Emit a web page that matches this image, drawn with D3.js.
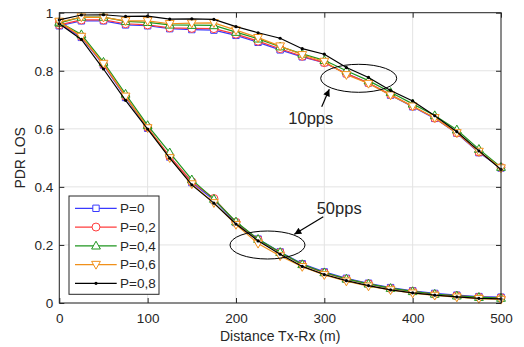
<!DOCTYPE html>
<html><head><meta charset="utf-8">
<script src="https://cdn.jsdelivr.net/npm/d3@7/dist/d3.min.js"></script>
<style>body{margin:0;background:#fff}svg{display:block}text{font-family:"Liberation Sans",Arial,sans-serif;fill:#262626}</style>
</head><body><svg id="c" width="524" height="347"></svg>
<script>
const distances = [0,25,50,75,100,125,150,175,200,225,250,275,300,325,350,375,400,425,450,475,500];
const seriesNames = ["P=0","P=0,2","P=0,4","P=0,6","P=0,8"];
const xTicks = [0,100,200,300,400,500];
const yTicks = [0,0.2,0.4,0.6,0.8,1];
const yTickLabels = ["0","0.2","0.4","0.6","0.8","1"];
// 10 pps curves
const pdr10_P0  = [0.955,0.972,0.972,0.958,0.955,0.945,0.942,0.940,0.922,0.898,0.872,0.848,0.828,0.790,0.758,0.716,0.676,0.636,0.585,0.518,0.465];
const pdr10_P02 = [0.958,0.975,0.975,0.962,0.958,0.948,0.946,0.945,0.926,0.902,0.876,0.850,0.828,0.790,0.758,0.718,0.678,0.637,0.586,0.520,0.467];
const pdr10_P04 = [0.965,0.985,0.985,0.970,0.967,0.958,0.957,0.956,0.933,0.910,0.883,0.858,0.836,0.800,0.766,0.726,0.686,0.646,0.597,0.530,0.468];
const pdr10_P06 = [0.968,0.985,0.984,0.972,0.972,0.962,0.964,0.965,0.940,0.914,0.885,0.855,0.832,0.786,0.756,0.716,0.678,0.638,0.586,0.522,0.465];
const pdr10_P08 = [0.975,0.992,0.993,0.987,0.988,0.978,0.979,0.977,0.952,0.931,0.912,0.876,0.857,0.811,0.777,0.732,0.696,0.645,0.590,0.524,0.460];
// 50 pps curves
const pdr50_P0  = [0.962,0.915,0.820,0.708,0.602,0.503,0.415,0.355,0.277,0.220,0.176,0.135,0.107,0.085,0.068,0.053,0.042,0.033,0.027,0.022,0.020];
const pdr50_P02 = [0.965,0.918,0.822,0.712,0.605,0.505,0.418,0.360,0.278,0.218,0.174,0.132,0.104,0.082,0.066,0.050,0.040,0.030,0.025,0.020,0.018];
const pdr50_P04 = [0.968,0.925,0.830,0.720,0.612,0.518,0.425,0.358,0.280,0.220,0.175,0.133,0.105,0.083,0.066,0.051,0.040,0.031,0.025,0.020,0.017];
const pdr50_P06 = [0.970,0.918,0.825,0.712,0.603,0.500,0.410,0.345,0.270,0.205,0.162,0.125,0.097,0.075,0.058,0.045,0.034,0.026,0.020,0.015,0.012];
const pdr50_P08 = [0.962,0.908,0.806,0.698,0.599,0.499,0.407,0.344,0.272,0.214,0.168,0.126,0.098,0.077,0.060,0.045,0.035,0.027,0.021,0.016,0.014];

const colors = ["#3a3aff","#ff3c3c","#1f961f","#f0901a","#000000"];
const markers = ["square","circle","tri-up","tri-down","dot"];
const data10 = [pdr10_P0,pdr10_P02,pdr10_P04,pdr10_P06,pdr10_P08];
const data50 = [pdr50_P0,pdr50_P02,pdr50_P04,pdr50_P06,pdr50_P08];

const svg = d3.select("#c");
const L=59.3, R=501, T=12.7, B=303;
const x = d3.scaleLinear().domain([0,500]).range([L,R]);
const y = d3.scaleLinear().domain([0,1]).range([B,T]);

// grid
const g = svg.append("g");
g.selectAll(".gx").data(xTicks).join("line").attr("x1",d=>x(d)).attr("x2",d=>x(d)).attr("y1",T).attr("y2",B).attr("stroke","#e3e3e3").attr("stroke-width",1);
g.selectAll(".gy").data(yTicks).join("line").attr("y1",d=>y(d)).attr("y2",d=>y(d)).attr("x1",L).attr("x2",R).attr("stroke","#e3e3e3").attr("stroke-width",1);

function markerPath(type){
  if(type==="square") return "M-3.2,-3.2H3.2V3.2H-3.2Z";
  if(type==="circle") return d3.symbol(d3.symbolCircle, 50)();
  if(type==="tri-up") return "M0,-4.6L4.4,3.2L-4.4,3.2Z";
  if(type==="tri-down") return "M0,4.6L4.4,-3.2L-4.4,-3.2Z";
  return null;
}
function drawSeries(vals, i){
  const pts = distances.map((d,k)=>[d, vals[k]]);
  const line = d3.line().x(d=>x(d[0])).y(d=>y(d[1]));
  svg.append("path").attr("d",line(pts)).attr("fill","none").attr("stroke",colors[i]).attr("stroke-width",1.2);
  const mg = svg.append("g");
  if(markers[i]==="dot"){
    mg.selectAll("circle").data(pts).join("circle").attr("cx",d=>x(d[0])).attr("cy",d=>y(d[1])).attr("r",1.6).attr("fill","#000");
  } else {
    mg.selectAll("path").data(pts).join("path").attr("d",markerPath(markers[i]))
      .attr("transform",d=>`translate(${x(d[0])},${y(d[1])})`).attr("fill","#fff").attr("stroke",colors[i]).attr("stroke-width",1);
  }
}
for(let i=0;i<5;i++){ drawSeries(data10[i],i); drawSeries(data50[i],i); }

// axes box
const ax = svg.append("g");
ax.append("rect").attr("x",L).attr("y",T).attr("width",R-L).attr("height",B-T).attr("fill","none").attr("stroke","#262626").attr("stroke-width",1);
const xAxisB = d3.axisBottom(x).tickValues(xTicks).tickSize(-5).tickPadding(0).tickFormat(d3.format("d"));
const gxB = svg.append("g").attr("transform",`translate(0,${B})`).call(xAxisB);
gxB.select(".domain").remove();
gxB.selectAll("line").attr("stroke","#262626");
gxB.selectAll("text").attr("y",10).attr("dy","0.71em").style("font-size","13.5px").attr("fill","#262626");
const gxT = svg.append("g").attr("transform",`translate(0,${T})`).call(d3.axisTop(x).tickValues(xTicks).tickSize(-5).tickFormat(""));
gxT.select(".domain").remove(); gxT.selectAll("line").attr("stroke","#262626");
const yAxisL = d3.axisLeft(y).tickValues(yTicks).tickSize(-5).tickPadding(0).tickFormat((d,i)=>yTickLabels[i]);
const gyL = svg.append("g").attr("transform",`translate(${L},0)`).call(yAxisL);
gyL.select(".domain").remove();
gyL.selectAll("line").attr("stroke","#262626");
gyL.selectAll("text").attr("x",-6).style("font-size","13.5px").attr("fill","#262626");
const gyR = svg.append("g").attr("transform",`translate(${R},0)`).call(d3.axisRight(y).tickValues(yTicks).tickSize(-5).tickFormat(""));
gyR.select(".domain").remove(); gyR.selectAll("line").attr("stroke","#262626");
svg.selectAll(".tick text").style("font-family","'Liberation Sans',Arial,sans-serif");

svg.append("text").attr("x",(L+R)/2).attr("y",341).attr("text-anchor","middle").style("font-size","14px").text("Distance Tx-Rx (m)");
svg.append("text").attr("transform",`translate(24.5,${(T+B)/2}) rotate(-90)`).attr("text-anchor","middle").style("font-size","14px").text("PDR LOS");

// annotations
const defs = svg.append("defs");
defs.append("marker").attr("id","ah").attr("viewBox","0 0 10 10").attr("refX",10).attr("refY",5)
  .attr("markerWidth",9).attr("markerHeight",7).attr("markerUnits","userSpaceOnUse").attr("orient","auto")
  .append("path").attr("d","M0,0L10,5L0,10Z").attr("fill","#000");
const ann = svg.append("g");
ann.append("ellipse").attr("cx",358.7).attr("cy",78.3).attr("rx",38).attr("ry",14).attr("fill","none").attr("stroke","#000").attr("stroke-width",1);
ann.append("line").attr("x1",321.7).attr("y1",106.7).attr("x2",329.3).attr("y2",89.3).attr("stroke","#000").attr("stroke-width",1.2).attr("marker-end","url(#ah)");
ann.append("text").attr("x",288.3).attr("y",124).style("font-size","16.5px").attr("fill","#000").text("10pps");
ann.append("ellipse").attr("cx",267.5).attr("cy",245).attr("rx",37.5).attr("ry",14).attr("fill","none").attr("stroke","#000").attr("stroke-width",1);
ann.append("line").attr("x1",323.3).attr("y1",216.7).attr("x2",294.3).attr("y2",234.3).attr("stroke","#000").attr("stroke-width",1.2).attr("marker-end","url(#ah)");
ann.append("text").attr("x",316.7).attr("y",213.5).style("font-size","16.5px").attr("fill","#000").text("50pps");

// legend
const lg = svg.append("g");
lg.append("rect").attr("x",69).attr("y",196).attr("width",90).attr("height",98.3).attr("fill","#fff").attr("stroke","#262626").attr("stroke-width",1);
seriesNames.forEach((name,i)=>{
  const yy = 208.3 + i*18.75;
  lg.append("line").attr("x1",75).attr("x2",116.7).attr("y1",yy).attr("y2",yy).attr("stroke",colors[i]).attr("stroke-width",1.2);
  if(markers[i]==="dot") lg.append("circle").attr("cx",96).attr("cy",yy).attr("r",1.6).attr("fill","#000");
  else lg.append("path").attr("d",markerPath(markers[i])).attr("transform",`translate(96,${yy})`).attr("fill","#fff").attr("stroke",colors[i]).attr("stroke-width",1);
  lg.append("text").attr("x",120).attr("y",yy).attr("dy","0.35em").style("font-size","13.5px").text(name);
});
</script></body></html>
